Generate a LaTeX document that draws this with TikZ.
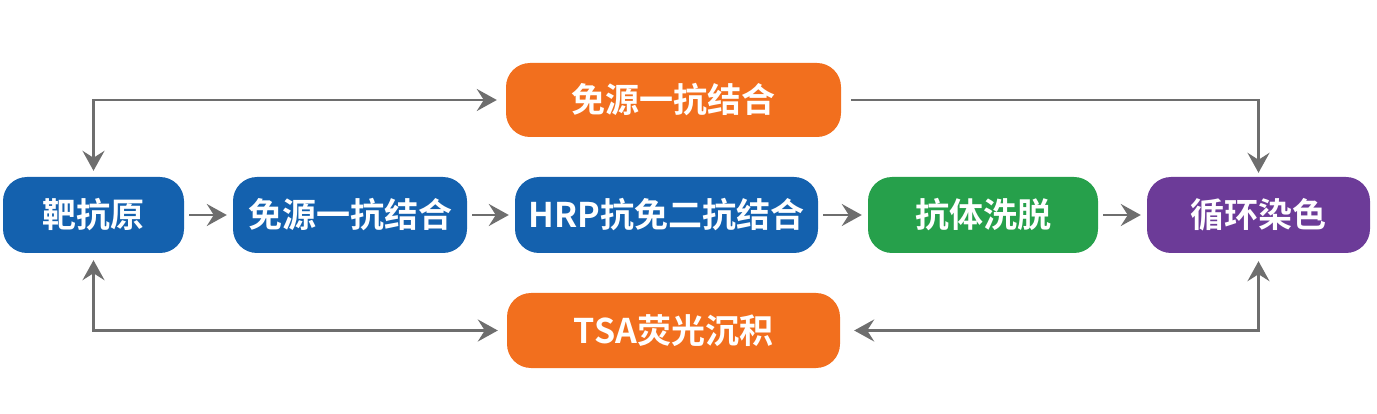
\documentclass[tikz,border=0pt]{standalone}
\usepackage{fontspec}
\newfontfamily\cjk{Noto Sans CJK SC}[BoldFont={Noto Sans CJK SC Bold}]
\usetikzlibrary{arrows.meta}
\definecolor{cblue}{HTML}{1461AE}
\definecolor{corange}{HTML}{F26F1E}
\definecolor{cgreen}{HTML}{26A04B}
\definecolor{cpurple}{HTML}{6C3B98}
\definecolor{cline}{HTML}{6E6E6E}
\tikzset{
  stepbox/.style={rounded corners=24pt, minimum height=76pt, inner sep=0pt,
    text=white, font=\cjk\bfseries\fontsize{34}{38}\selectfont},
  conn/.style={draw=cline, line width=2.3pt,
    -{Stealth[length=20pt,width=22pt,inset=7pt]}},
  conn2/.style={draw=cline, line width=2.3pt,
    {Stealth[length=20pt,width=22pt,inset=7pt]}-{Stealth[length=20pt,width=22pt,inset=7pt]}},
}
\begin{document}
\begin{tikzpicture}[x=1pt,y=1pt]
\useasboundingbox (0,0) rectangle (1377,-414);
\node[stepbox, fill=cblue, minimum width=181pt] (tb) at (93.5,-215) {靶抗原};
\node[stepbox, fill=cblue, minimum width=234pt] (n2) at (350,-215) {免源一抗结合};
\node[stepbox, fill=cblue, minimum width=303pt] (n3) at (666.5,-215) {HRP抗免二抗结合};
\node[stepbox, fill=cgreen, minimum width=230pt] (n4) at (983,-215) {抗体洗脱};
\node[stepbox, fill=cpurple, minimum width=223pt] (n5) at (1258.5,-215) {循环染色};
\node[stepbox, fill=corange, minimum width=335pt, minimum height=74pt] (top) at (673.5,-100) {免源一抗结合};
\node[stepbox, fill=corange, minimum width=333pt, minimum height=75pt] (bot) at (673.5,-330.5) {TSA荧光沉积};

\draw[conn] ([xshift=5pt]tb.east) -- ([xshift=-6pt]n2.west);
\draw[conn] ([xshift=5pt]n2.east) -- ([xshift=-6pt]n3.west);
\draw[conn] ([xshift=5pt]n3.east) -- ([xshift=-6pt]n4.west);
\draw[conn] ([xshift=5pt]n4.east) -- ([xshift=-6pt]n5.west);

\draw[conn2] ([yshift=6pt]tb.north) |- ([xshift=-9pt]top.west);
\draw[conn] ([xshift=10pt]top.east) -| ([yshift=4pt]n5.north);
\draw[conn2] ([yshift=-7pt]tb.south) |- ([xshift=-9pt]bot.west);
\draw[conn2] ([xshift=14pt]bot.east) -| ([yshift=-8pt]n5.south);
\end{tikzpicture}
\end{document}
